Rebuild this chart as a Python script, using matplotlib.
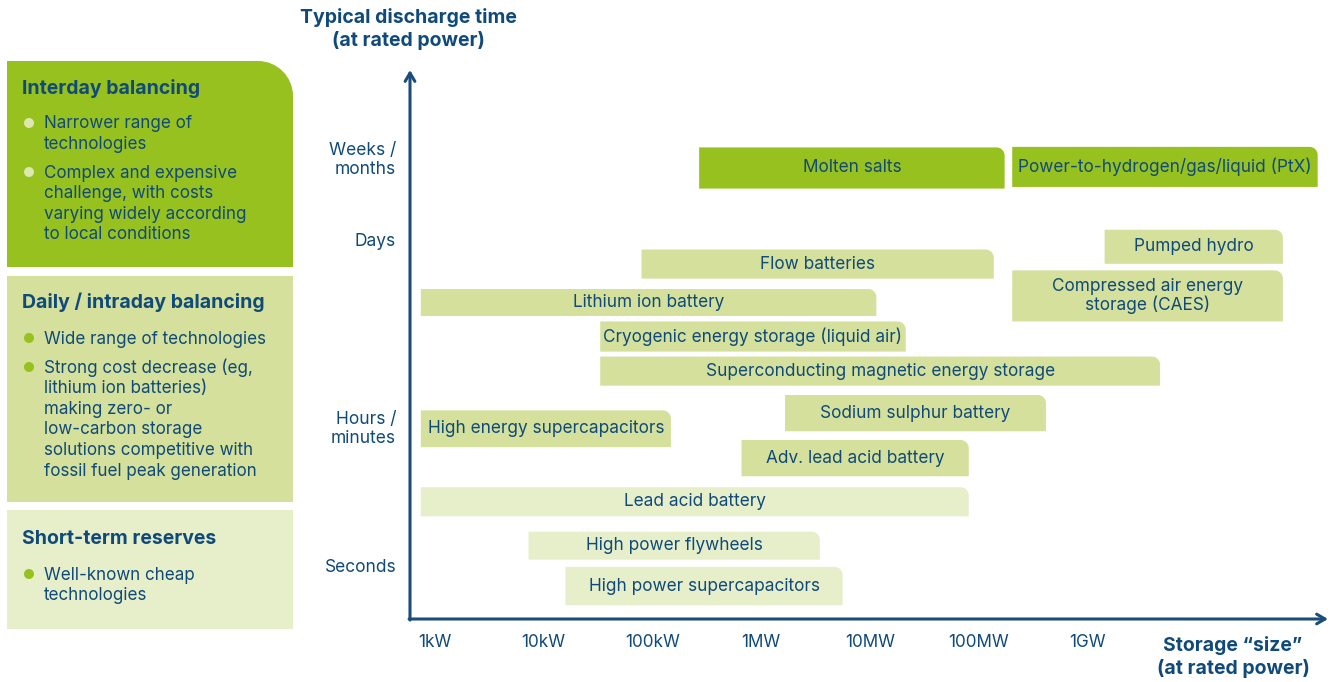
import matplotlib.pyplot as plt
from matplotlib.path import Path
from matplotlib.patches import PathPatch, Circle

plt.rcParams['font.family'] = ['Inter', 'DejaVu Sans']

# storage technologies: size range in decades above 1kW, discharge-time range (arbitrary 0-10 scale)
techs = ['Molten salts', 'Power-to-hydrogen/gas/liquid (PtX)', 'Pumped hydro', 'Flow batteries',
         'Compressed air energy\nstorage (CAES)', 'Lithium ion battery',
         'Cryogenic energy storage (liquid air)', 'Superconducting magnetic energy storage',
         'Sodium sulphur battery', 'High energy supercapacitors', 'Adv. lead acid battery',
         'Lead acid battery', 'High power flywheels', 'High power supercapacitors']
size_lo = [2.43, 5.31, 6.16, 1.90, 5.31, -0.13, 1.52, 1.52, 3.22, -0.13, 2.82, -0.13, 0.86, 1.20]
size_hi = [5.24, 8.12, 7.80, 5.14, 7.80, 4.06, 4.33, 6.67, 5.62, 2.17, 4.91, 4.91, 3.54, 3.75]
time_lo = [7.84, 7.87, 6.47, 6.20, 5.42, 5.52, 4.87, 4.25, 3.42, 3.13, 2.60, 1.87, 1.08, 0.25]
time_hi = [8.59, 8.60, 7.09, 6.73, 6.35, 6.01, 5.42, 4.78, 4.08, 3.80, 3.26, 2.40, 1.59, 0.95]
tier = [0, 0, 1, 1, 1, 1, 1, 1, 1, 1, 1, 2, 2, 2]

size_ticks = ['1kW', '10kW', '100kW', '1MW', '10MW', '100MW', '1GW']
time_levels = [8.42, 6.92, 3.52, 0.97]
time_labels = ['Weeks /\nmonths', 'Days', 'Hours /\nminutes', 'Seconds']

panel_titles = ['Interday balancing', 'Daily / intraday balancing', 'Short-term reserves']
panel_bullets = [
    [['Narrower range of', 'technologies'],
     ['Complex and expensive', 'challenge, with costs', 'varying widely according', 'to local conditions']],
    [['Wide range of technologies'],
     ['Strong cost decrease (eg,', 'lithium ion batteries)', 'making zero- or', 'low-carbon storage',
      'solutions competitive with', 'fossil fuel peak generation']],
    [['Well-known cheap', 'technologies']],
]

navy = '#0f4a7a'
axis_col = '#1b4d7a'
greens = ['#97c11f', '#d4e09b', '#e7efca']
bullet_cols = ['#dce8b0', '#97c11f', '#97c11f']


def tr_rounded(x0, x1, y0, y1, rx, ry):
    # rectangle with only the top-right corner rounded (y1 is the top)
    k = 0.552
    verts = [(x0, y0), (x1, y0), (x1, y1 - ry),
             (x1, y1 - ry + k * ry), (x1 - rx + k * rx, y1), (x1 - rx, y1),
             (x0, y1), (x0, y0)]
    codes = [Path.MOVETO, Path.LINETO, Path.LINETO,
             Path.CURVE4, Path.CURVE4, Path.CURVE4,
             Path.LINETO, Path.CLOSEPOLY]
    return Path(verts, codes)


fig = plt.figure(figsize=(13.38, 6.82), dpi=100)

# background axes in pixel units for the left panel and titles
bg = fig.add_axes([0, 0, 1, 1])
bg.set_xlim(0, 1338)
bg.set_ylim(682, 0)
bg.axis('off')

box_tops = [61, 276, 510]
box_bots = [267, 502, 629]
title_y = [88, 302, 539]
bullet_y = [[124, 173], [339, 368], [575]]
for i in range(3):
    if i == 0:
        p = tr_rounded(7, 293, box_bots[i], box_tops[i], 35, -35)
    else:
        p = tr_rounded(7, 293, box_bots[i], box_tops[i], 0, 0)
    bg.add_patch(PathPatch(p, facecolor=greens[i], edgecolor='none'))
    bg.text(22, title_y[i], panel_titles[i], fontsize=14, fontweight='bold', color=navy,
            va='center', ha='left')
    for b, lines in enumerate(panel_bullets[i]):
        y0 = bullet_y[i][b]
        bg.add_patch(Circle((29, y0 - 1), 5, facecolor=bullet_cols[i], edgecolor='none'))
        for j, line in enumerate(lines):
            bg.text(44, y0 + j * 20.6, line, fontsize=12.25, color=navy, va='center', ha='left')

bg.text(408, 29, 'Typical discharge time\n(at rated power)', fontsize=14, fontweight='bold',
        color=navy, ha='center', va='center', linespacing=1.3)
bg.text(1233, 657, 'Storage \u201csize\u201d\n(at rated power)', fontsize=14, fontweight='bold',
        color=navy, ha='center', va='center', linespacing=1.3)

# main chart
ax = fig.add_axes([410 / 1338, 63 / 682, 918 / 1338, 549 / 682])
ax.set_xlim(-0.23, 8.215)
ax.set_ylim(0, 10)
ax.patch.set_alpha(0)
for s in ax.spines.values():
    s.set_visible(False)

rx = 8 / 108.7
ry = 8 / 54.9
for i, name in enumerate(techs):
    p = tr_rounded(size_lo[i], size_hi[i], time_lo[i], time_hi[i], rx, ry)
    ax.add_patch(PathPatch(p, facecolor=greens[tier[i]], edgecolor='none'))
    ax.text((size_lo[i] + size_hi[i]) / 2, (time_lo[i] + time_hi[i]) / 2, name,
            fontsize=12.4, color=navy, ha='center', va='center', linespacing=1.05)

ax.set_xticks(range(len(size_ticks)))
ax.set_xticklabels(size_ticks)
ax.set_yticks(time_levels)
ax.set_yticklabels(time_labels)
ax.tick_params(axis='x', length=0, pad=11, labelsize=12.3, labelcolor=navy)
ax.tick_params(axis='y', length=0, pad=10, labelsize=12.5, labelcolor=navy)
for t in ax.get_yticklabels():
    t.set_linespacing(1.15)

arrow = dict(arrowstyle='->,head_length=0.6,head_width=0.35', color=axis_col, lw=2.2,
             shrinkA=0, shrinkB=0)
ax.annotate('', xy=(0, 1), xytext=(0, -0.002), xycoords='axes fraction', arrowprops=arrow)
ax.annotate('', xy=(1, 0), xytext=(-0.001, 0), xycoords='axes fraction', arrowprops=arrow)

fig.savefig('out.png', dpi=100)
